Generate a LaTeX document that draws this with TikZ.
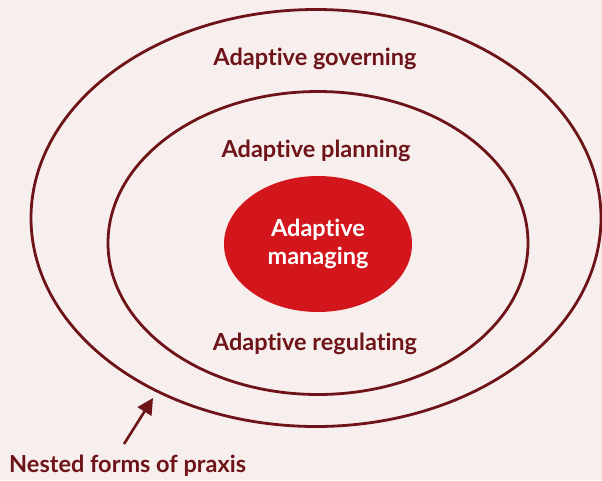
\documentclass[tikz,border=0pt]{standalone}
\usepackage{fontspec}
\setmainfont{Lato}[Ligatures=NoCommon]
\usetikzlibrary{shapes.geometric,arrows.meta}
\definecolor{bgc}{HTML}{F7EFED}
\definecolor{lc}{HTML}{6E1419}
\definecolor{fc}{HTML}{D2161C}
\begin{document}
\begin{tikzpicture}[x=1pt,y=-1pt,
  ring/.style={ellipse,draw=lc,line width=2.8pt,inner sep=0pt},
  lab/.style={text=lc,font=\bfseries\fontsize{23.5}{28}\selectfont,inner sep=0pt},
  core/.style={ellipse,fill=fc,inner sep=0pt,text=white,align=center,font=\bfseries\fontsize{23.5}{28}\selectfont}]
\fill[bgc] (0,0) rectangle (602,480);
\useasboundingbox (0,0) rectangle (602,480);
\node[ring,minimum width=570pt,minimum height=417pt] (outer) at (316,218) {};
\node[ring,minimum width=420pt,minimum height=303pt] (inner) at (318,243) {};
\node[core,minimum width=188pt,minimum height=136pt] (mid) at (318,244) {Adaptive\\managing};
\node[lab] (gov) at (315,59) {Adaptive governing};
\node[lab] (plan) at (316,151) {Adaptive planning};
\node[lab] (reg) at (315,344) {Adaptive regulating};
\node[lab,anchor=west] (nest) at (9,466) {Nested forms of praxis};
\coordinate (tip) at (153,398);
\coordinate (tail) at (124,444);
\draw[lc,line width=2.6pt,-{Triangle[length=16pt,width=16pt]}] (tail) -- (tip);
\end{tikzpicture}
\end{document}
